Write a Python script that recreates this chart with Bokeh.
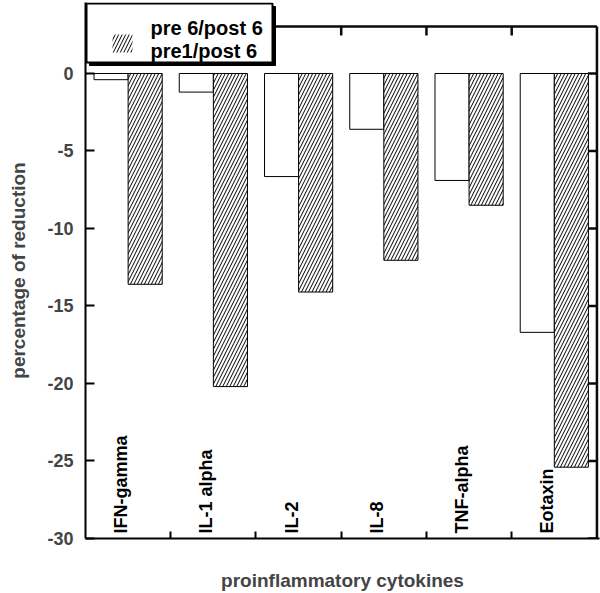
from math import pi
from bokeh.plotting import figure
from bokeh.models import Range1d, FixedTicker, ColumnDataSource
from bokeh.core.properties import value
from bokeh.embed import file_html
from bokeh.resources import INLINE

categories = ["IFN-gamma", "IL-1 alpha", "IL-2", "IL-8", "TNF-alpha", "Eotaxin"]
pre6_post6 = [-0.4, -1.2, -6.65, -3.6, -6.9, -16.7]
pre1_post6 = [-13.6, -20.2, -14.1, -12.05, -8.5, -25.4]
y_ticks = [0, -5, -10, -15, -20, -25, -30]
series_labels = ["pre 6/post 6", "pre1/post 6"]

FONT = "Liberation Sans"
EDGE = "#0a0a0a"
n = len(categories)
y_min = min(y_ticks)
y_box_top = 3.03      # top edge of the drawn plot box
y_view_top = 4.58     # extra room above the box for the legend
x_pad = 0.03          # keeps the right box edge inside the frame
centers = [i + 0.5 for i in range(n)]
boundaries = [i for i in range(1, n)]

# layout (pixels) used to place the legend box
W, H = 600, 593
B_LEFT, B_RIGHT, B_TOP, B_BOTTOM = 85, 1, 2, 55
fw = W - B_LEFT - B_RIGHT
fh = H - B_TOP - B_BOTTOM


def X(px):
    return (px - B_LEFT) / fw * (n + x_pad)


def Y(py):
    return y_min + (H - B_BOTTOM - py) / fh * (y_view_top - y_min)


src = ColumnDataSource(dict(
    xw=[c - 0.2 for c in centers],
    xh=[c + 0.2 for c in centers],
    zero=[0] * n,
    a=pre6_post6,
    b=pre1_post6,
    lx=[c - 0.082 for c in centers],
    ly=[y_min] * n,
    lab=categories,
))

tick_src = ColumnDataSource(dict(bx=boundaries, by=[y_box_top] * len(boundaries)))
rtick_src = ColumnDataSource(dict(rx=[n] * len(y_ticks), ry=y_ticks))

p = figure(width=W, height=H, output_backend="svg", toolbar_location=None,
           x_range=Range1d(0, n + x_pad), y_range=Range1d(y_min, y_view_top),
           min_border_left=B_LEFT, min_border_right=B_RIGHT,
           min_border_top=B_TOP, min_border_bottom=B_BOTTOM)
p.xgrid.visible = False
p.ygrid.visible = False
p.outline_line_color = None

# bars
p.vbar(x="xw", width=0.4, top="zero", bottom="a", source=src,
       fill_color="white", line_color="black", line_width=1)
p.vbar(x="xh", width=0.4, top="zero", bottom="b", source=src,
       fill_color="white", line_color="black", line_width=1,
       hatch_pattern="/", hatch_color="black", hatch_scale=7, hatch_weight=1)

# plot box (top and right edges; left/bottom come from the axes)
p.segment(x0=[0, n], y0=[y_box_top, y_box_top], x1=[n, n], y1=[y_box_top, y_min],
          line_color=EDGE, line_width=2.5)

# mirror ticks on top and right box edges
p.ray(x="bx", y="by", source=tick_src, length=9, length_units="screen",
      angle=-pi / 2, line_color=EDGE, line_width=2.5)
p.ray(x="rx", y="ry", source=rtick_src, length=9, length_units="screen",
      angle=pi, line_color=EDGE, line_width=2.5)

# category labels inside plot
p.text(x="lx", y="ly", text="lab", source=src, angle=pi / 2,
       text_align="left", text_baseline="middle", y_offset=-5,
       text_font=value(FONT), text_font_style="bold", text_font_size="18px",
       text_color="black")

# legend box with drop shadow
p.quad(left=[X(89)], right=[X(275)], top=[Y(6)], bottom=[Y(65)],
       fill_color="black", line_color="black", line_width=1)
p.quad(left=[X(86)], right=[X(272)], top=[Y(3)], bottom=[Y(62)],
       fill_color="white", line_color="black", line_width=2)
# hatched swatch for the second series (first series swatch is plain white)
p.quad(left=[X(112)], right=[X(132)], top=[Y(34)], bottom=[Y(52)],
       fill_color="white", line_color=None,
       hatch_pattern="/", hatch_color="black", hatch_scale=7, hatch_weight=1)
p.text(x=[X(150), X(150)], y=[Y(27), Y(50)], text=series_labels,
       text_align="left", text_baseline="alphabetic",
       text_font=value(FONT), text_font_style="bold", text_font_size="20px",
       text_color="black")

# left axis
ya = p.yaxis[0]
ya.ticker = FixedTicker(ticks=y_ticks)
ya.major_label_overrides = {t: str(t) for t in y_ticks}
ya.major_tick_in = 9
ya.major_tick_out = 0
ya.minor_tick_line_color = None
ya.major_tick_line_width = 2
ya.axis_line_width = 2
ya.major_label_standoff = 12
ya.major_label_text_font = FONT
ya.major_label_text_font_style = "bold"
ya.major_label_text_font_size = "18px"
ya.axis_label = "percentage of reduction"
ya.axis_label_text_font = FONT
ya.axis_label_text_font_style = "bold"
ya.axis_label_text_font_size = "19px"
ya.axis_label_standoff = 15

# bottom axis
xa = p.xaxis[0]
xa.ticker = FixedTicker(ticks=boundaries)
xa.major_label_overrides = {b: " " for b in boundaries}
xa.major_tick_in = 7
xa.major_tick_out = 0
xa.minor_tick_line_color = None
xa.major_tick_line_width = 2
xa.axis_line_width = 2
xa.major_label_standoff = 0
xa.major_label_text_font_size = "1px"
xa.axis_label = "proinflammatory cytokines"
xa.axis_label_text_font = FONT
xa.axis_label_text_font_style = "bold"
xa.axis_label_text_font_size = "19px"
xa.axis_label_standoff = 27

open("out.html", "w").write(file_html(p, INLINE))
